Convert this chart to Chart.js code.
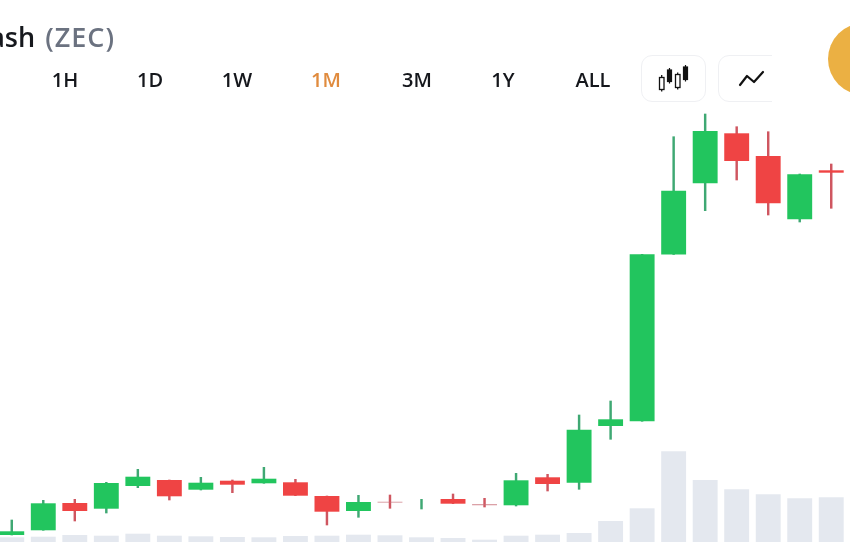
<!DOCTYPE html>
<html>
<head>
<meta charset="utf-8">
<script src="https://cdn.jsdelivr.net/npm/chart.js@4"></script>
<style>
html,body{margin:0;padding:0;width:850px;height:560px;overflow:hidden;background:#fff;position:relative;font-family:"Open Sans",sans-serif}
#c{position:absolute;left:-4px;top:0}
.title{position:absolute;right:735px;top:19px;font-size:27px;font-weight:600;color:#16181d;white-space:nowrap;line-height:36px}
.title span{color:#6b7280;letter-spacing:1px;margin-left:3px}
.tf{position:absolute;top:66px;font-size:20px;font-weight:600;color:#15171c;line-height:28px;transform:translateX(-50%)}
.tf.on{color:#e08b3e}
.btn{position:absolute;top:55px;height:45px;border:1px solid #eff0f3;border-radius:11px;box-sizing:content-box;background:#fff}
.clip{position:absolute;left:718px;top:50px;width:54px;height:56px;overflow:hidden}
.coin{position:absolute;left:828px;top:23px;width:72px;height:72px;border-radius:50%;background:#ebb043}
</style>
</head>
<body>
<canvas id="c" width="851" height="560" style="width:851px;height:560px"></canvas>
<div class="title">Zcash <span>(ZEC)</span></div>
<div class="tf" style="left:65px">1H</div>
<div class="tf" style="left:150px">1D</div>
<div class="tf" style="left:237px">1W</div>
<div class="tf on" style="left:326px">1M</div>
<div class="tf" style="left:417px">3M</div>
<div class="tf" style="left:503px">1Y</div>
<div class="tf" style="left:593px">ALL</div>
<div class="btn" style="left:641px;width:63px">
<svg width="63" height="45" viewBox="0 0 63 45">
<g fill="none" stroke="#111" stroke-width="1.3">
<rect x="17.5" y="21.5" width="4.5" height="12"/><path d="M19.7 19v2.5M19.7 33.5v2"/>
<rect x="33.5" y="18.5" width="4.5" height="13"/><path d="M35.7 16.5v2M35.7 31.5v2"/>
</g>
<g fill="#111" stroke="#111" stroke-width="1.2">
<rect x="25.5" y="14" width="4" height="11.5"/><path d="M27.5 12v2M27.5 25.5v2"/>
<rect x="41.5" y="11" width="4" height="12.5"/><path d="M43.5 9v2M43.5 23.5v2"/>
</g>
</svg>
</div>
<div class="clip">
<div class="btn" style="left:0;top:5px;width:70px">
<svg width="54" height="45" viewBox="0 0 54 45"><path d="M21 29l7-9 7 6 9-10" fill="none" stroke="#111" stroke-width="2.2" stroke-linecap="round" stroke-linejoin="round"/></svg>
</div>
</div>
<div class="coin"></div>
<script>
const days = ["1","2","3","4","5","6","7","8","9","10","11","12","13","14","15","16","17","18","19","20","21","22","23","24","25","26","27"];
const opens  = [25,29.7,57,51.3,74,80,70.3,79.3,76.7,77.7,64,49,58.3,56,61,56,54.7,82.7,77.3,134,138.7,305.5,376.7,426.7,404,340.7,389.7];
const closes = [28.7,56.7,49,77,83.3,63.7,77.3,75.3,81.3,64.3,48.3,58,57.3,56,56.3,54.7,79.7,76,130.3,140.7,305.7,369.3,429,399,356.7,385.7,387.3];
const highs  = [40,59.7,60.7,77.7,90.7,80,82.7,80,92.7,80.7,64,64.7,65,60.7,66,61.7,86.7,85.7,145,159,305.7,423.3,446,433.3,428.3,386,396];
const lows   = [25,29.7,39,47,72.3,60,70,67.3,76.7,64.3,35,42.7,51.7,51,56.3,53,54,69,70.7,120.7,138.7,305.5,349.3,380,345,338,351.7];
const volumes= [4.7,5.3,7,6.3,8.3,6.3,5.7,5,4.7,6,6.3,7.3,6.7,4.7,4,2.3,6.3,7.3,9,21,33.7,90.7,62,52.7,47.7,43.7,44.7];

const GREEN="#22c55e", RED="#ef4444", THIN_RED="rgba(200,110,120,0.65)", WICK_G="#3fa873", WICK_R="#cf5660", VOL="#e4e8ef";
const up = opens.map((o,i)=>closes[i]>=o);
const bodyColors = opens.map((o,i)=>up[i]?GREEN:(Math.abs(o-closes[i])<1.5?THIN_RED:RED));

new Chart(document.getElementById("c"),{
  type:"bar",
  data:{labels:days,datasets:[
    {label:"Volume",data:volumes,yAxisID:"v",backgroundColor:VOL,barPercentage:0.79,categoryPercentage:1,order:3},
    {label:"Range",data:lows.map((l,i)=>[l,highs[i]]),yAxisID:"p",backgroundColor:up.map(u=>u?WICK_G:WICK_R),barThickness:1.8,order:2},
    {label:"Body",data:opens.map((o,i)=>[o,closes[i]]),yAxisID:"p",backgroundColor:bodyColors,barPercentage:0.79,categoryPercentage:1,order:1}
  ]},
  options:{
    responsive:false,animation:false,devicePixelRatio:1,
    layout:{padding:0},
    plugins:{legend:{display:false},tooltip:{enabled:false}},
    datasets:{bar:{grouped:false}},
    scales:{
      x:{display:false,offset:true},
      p:{display:false,min:0,max:560},
      v:{display:false,min:-18,max:542}
    }
  }
});
</script>
</body>
</html>
